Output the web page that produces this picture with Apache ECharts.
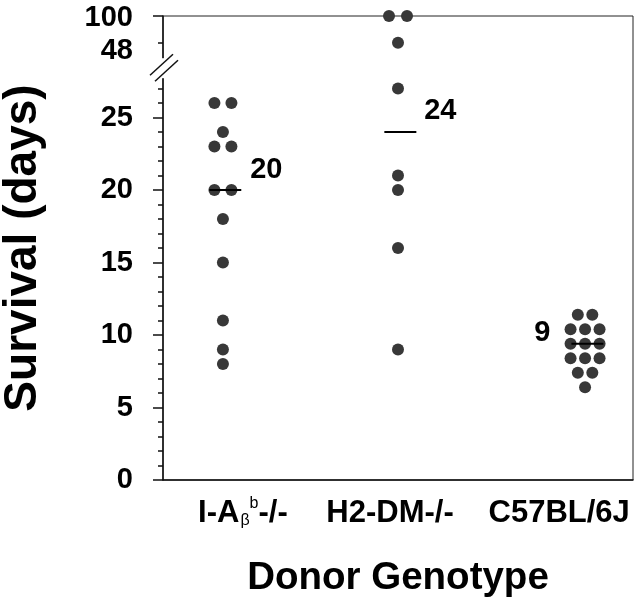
<!DOCTYPE html>
<html>
<head>
<meta charset="utf-8">
<script src="https://cdn.jsdelivr.net/npm/echarts@6/dist/echarts.min.js"></script>
<style>
  html, body { margin: 0; padding: 0; background: #fff; }
  #chart { width: 640px; height: 605px; }
</style>
</head>
<body>
<div id="chart"></div>
<script>
// survival of recipients, by donor genotype
var categories = ['I-Aβb-/-', 'H2-DM-/-', 'C57BL/6J'];
var survivalIAb = [26, 26, 24, 23, 23, 20, 20, 18, 15, 11, 9, 8];
var survivalH2DM = [100, 100, 48, 27, 21, 20, 16, 9];
var survivalC57 = [11.4, 11.4, 10.4, 10.4, 10.4, 9.4, 9.4, 9.4, 8.4, 8.4, 8.4, 7.4, 7.4, 6.4];
var medians = [20, 24, 9.4];
var medianLabels = ['20', '24', '9'];
var yTickLabels = [0, 5, 10, 15, 20, 25];
var yBreakLabels = [48, 100];

// broken y scale: 0-27 linear, then 48 and 100 squeezed at top
var breakScale = [[0, 0], [27.6, 27.6], [48, 30.15], [100, 32]];
function toAxis(v) {
    for (var i = 1; i < breakScale.length; i++) {
        var a = breakScale[i - 1], b = breakScale[i];
        if (v <= b[0]) return a[1] + (v - a[0]) * (b[1] - a[1]) / (b[0] - a[0]);
    }
    return breakScale[breakScale.length - 1][1];
}

var majorTicks = [], minorTicks = [];
for (var t = 0; t <= 27; t++) {
    if (t % 5 === 0) majorTicks.push(toAxis(t)); else minorTicks.push(toAxis(t));
}
majorTicks.push(toAxis(100));
minorTicks.push(toAxis(48));

// layout (x axis runs 0..100 across the plot)
var colX = [12.75, 50.0, 89.8];
var labelX = [17.0, 48.3, 84.3];
var swarmGap = [17, 18, 14.5];
var pxPerX = 4.7;
var pxPerY = 14.5;

function swarm(values, g) {
    var counts = {}, seen = {};
    values.forEach(function (v) { counts[v] = (counts[v] || 0) + 1; });
    return values.map(function (v) {
        var i = seen[v] = (seen[v] === undefined ? 0 : seen[v] + 1);
        var off = (i - (counts[v] - 1) / 2) * swarmGap[g] / pxPerX;
        return [colX[g] + off, toAxis(v)];
    });
}

var font = '"Liberation Sans", Arial, Helvetica, sans-serif';
var dotColor = '#383838';
var labelOffsets = [[41, -20], [40, -21], [-45, -11]];

var dots = [].concat(swarm(survivalIAb, 0), swarm(survivalH2DM, 1), swarm(survivalC57, 2));
var medianData = medians.map(function (m, i) {
    return {
        value: [colX[i] + 0.5, toAxis(m)],
        label: {
            show: true, formatter: medianLabels[i], position: 'inside', offset: labelOffsets[i],
            fontFamily: font, fontWeight: 'bold', fontSize: 29, color: '#000'
        }
    };
});

// label for the squeezed part of the axis, nudged down by dy pixels
function labelOnlyAxis(value, dy) {
    return {
        type: 'value', min: 0, max: 32, position: 'left',
        axisLine: { show: false }, axisTick: { show: false }, splitLine: { show: false },
        axisLabel: {
            customValues: [toAxis(value) - dy / pxPerY], margin: 30,
            fontFamily: font, fontWeight: 'bold', fontSize: 29, color: '#000',
            formatter: function () { return String(value); }
        }
    };
}

var myChart = echarts.init(document.getElementById('chart'));
var option = {
    animation: false,
    backgroundColor: '#fff',
    grid: {
        left: 163, right: 7, top: 16, bottom: 125,
        show: true, borderColor: '#222', borderWidth: 1, backgroundColor: 'transparent',
        outerBoundsMode: 'none'
    },
    xAxis: {
        type: 'value', min: 0, max: 100,
        name: 'Donor Genotype', nameLocation: 'middle', nameGap: 79,
        nameTextStyle: { fontFamily: font, fontWeight: 'bold', fontSize: 38.5, color: '#000' },
        axisLine: { show: true, lineStyle: { color: '#111', width: 1.5 } },
        axisTick: { show: false },
        splitLine: { show: false },
        axisLabel: {
            customValues: labelX,
            margin: 16,
            hideOverlap: false,
            formatter: function (v) {
                var i = 0, best = 1e9;
                labelX.forEach(function (x, k) { if (Math.abs(x - v) < best) { best = Math.abs(x - v); i = k; } });
                if (i === 0) return '{n|I-A}{sub|β}{sup|b}{n|-/-}';
                return '{n|' + categories[i] + '}';
            },
            rich: {
                n: { fontFamily: font, fontWeight: 'bold', fontSize: 31, lineHeight: 34, color: '#000' },
                sub: { fontFamily: font, fontSize: 16, lineHeight: 16, padding: [16, 0, 0, 1], color: '#000' },
                sup: { fontFamily: font, fontSize: 16, lineHeight: 16, padding: [0, 0, 18, 0], color: '#000' }
            }
        }
    },
    yAxis: [{
        type: 'value', min: 0, max: 32, position: 'left',
        name: 'Survival (days)', nameLocation: 'middle', nameRotate: 90, nameGap: 117,
        nameTextStyle: { fontFamily: font, fontWeight: 'bold', fontSize: 46, color: '#000' },
        axisLine: { show: true, lineStyle: { color: '#111', width: 1.5 } },
        axisTick: { show: true, customValues: majorTicks, length: 10, lineStyle: { color: '#111', width: 1.5 } },
        splitLine: { show: false },
        axisLabel: {
            customValues: yTickLabels.map(toAxis),
            margin: 30,
            fontFamily: font, fontWeight: 'bold', fontSize: 29, color: '#000',
            formatter: function (v) { return String(Math.round(v)); }
        }
    }, {
        type: 'value', min: 0, max: 32, position: 'left',
        axisLine: { show: false },
        axisTick: { show: true, customValues: minorTicks, length: 5, lineStyle: { color: '#111', width: 1.5 } },
        axisLabel: { show: false },
        splitLine: { show: false }
    },
    labelOnlyAxis(yBreakLabels[0], 8),
    labelOnlyAxis(yBreakLabels[1], 2)
    ],
    series: [{
        type: 'scatter',
        yAxisIndex: 0,
        symbol: 'circle',
        symbolSize: 12,
        itemStyle: { color: dotColor, opacity: 1 },
        data: dots,
        z: 2
    }, {
        type: 'scatter',
        yAxisIndex: 0,
        symbol: 'rect',
        symbolSize: [32, 2],
        itemStyle: { color: '#000', opacity: 1 },
        data: medianData,
        z: 3
    }]
};
myChart.setOption(option);

// axis break marks
var by = myChart.convertToPixel({ yAxisIndex: 0 }, 28.4);
var bx = myChart.convertToPixel({ xAxisIndex: 0 }, 0);
myChart.setOption({
    graphic: [
        { type: 'rect', shape: { x: bx - 4, y: by - 10, width: 8, height: 20 }, style: { fill: '#fff' }, z: 100 },
        { type: 'line', shape: { x1: bx - 13, y1: by + 7, x2: bx + 10, y2: by - 14 }, style: { stroke: '#111', lineWidth: 1.5 }, z: 101 },
        { type: 'line', shape: { x1: bx - 8, y1: by + 13, x2: bx + 15, y2: by - 8 }, style: { stroke: '#111', lineWidth: 1.5 }, z: 101 }
    ]
});
</script>
</body>
</html>
